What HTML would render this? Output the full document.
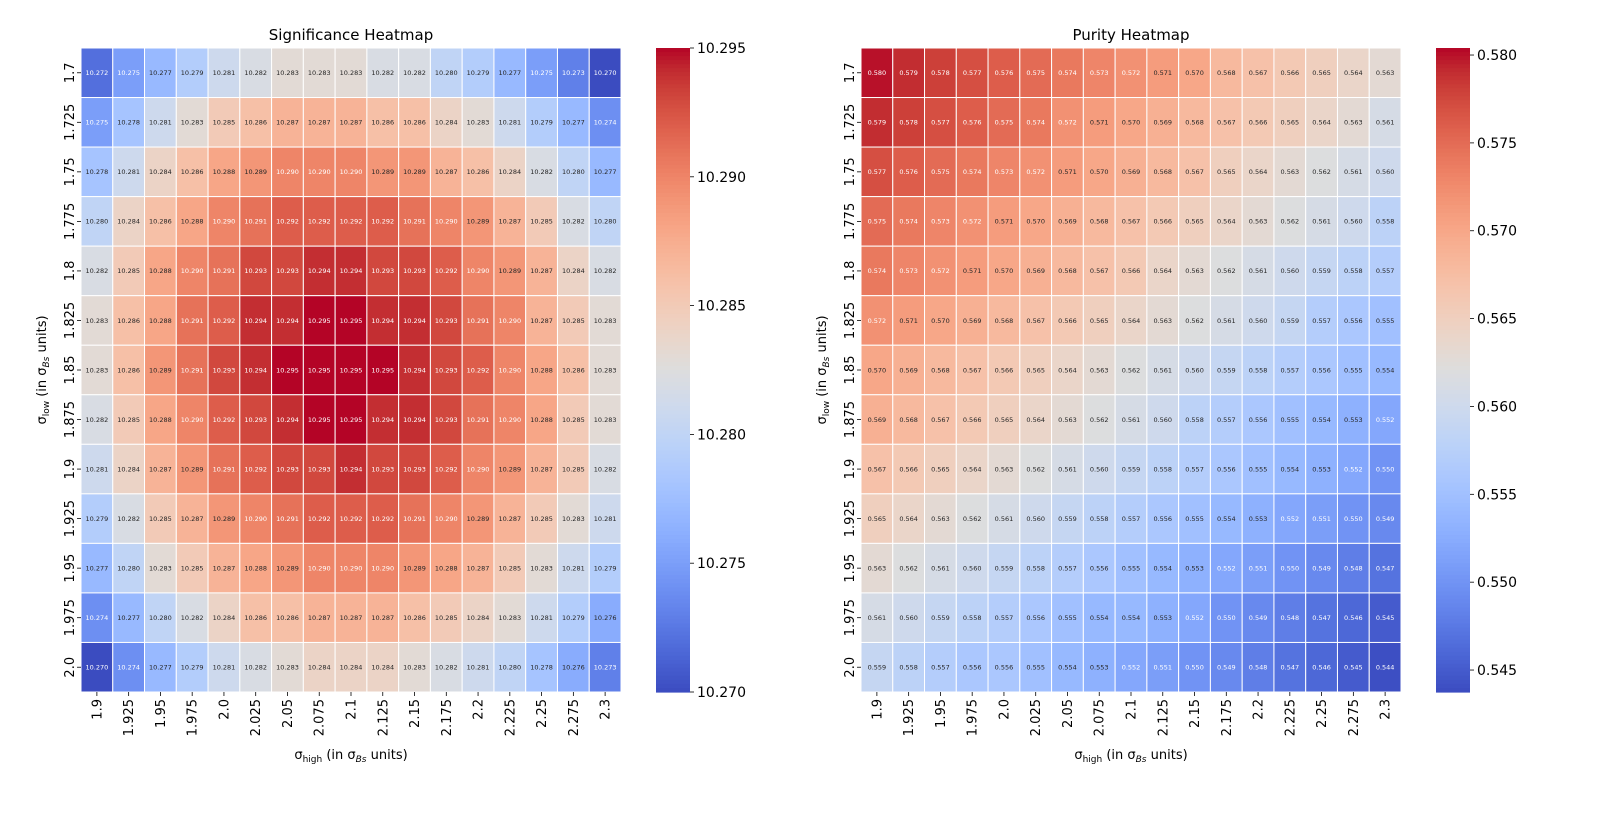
<!DOCTYPE html>
<html><head><meta charset="utf-8">
<style>
html,body{margin:0;padding:0;background:#fff;}
svg{display:block;font-family:"DejaVu Sans","Liberation Sans",sans-serif;}
</style></head>
<body>
<svg id="chart" width="1603" height="832" viewBox="0 0 1603 832" xmlns="http://www.w3.org/2000/svg"></svg>
<script>
const xCategories = ["1.9","1.925","1.95","1.975","2.0","2.025","2.05","2.075","2.1","2.125","2.15","2.175","2.2","2.225","2.25","2.275","2.3"];
const yCategories = ["1.7","1.725","1.75","1.775","1.8","1.825","1.85","1.875","1.9","1.925","1.95","1.975","2.0"];
const sigValues = [
[272,275,277,279,281,282,283,283,283,282,282,280,279,277,275,273,270],
[275,278,281,283,285,286,287,287,287,286,286,284,283,281,279,277,274],
[278,281,284,286,288,289,290,290,290,289,289,287,286,284,282,280,277],
[280,284,286,288,290,291,292,292,292,292,291,290,289,287,285,282,280],
[282,285,288,290,291,293,293,294,294,293,293,292,290,289,287,284,282],
[283,286,288,291,292,294,294,295,295,294,294,293,291,290,287,285,283],
[283,286,289,291,293,294,295,295,295,295,294,293,292,290,288,286,283],
[282,285,288,290,292,293,294,295,295,294,294,293,291,290,288,285,283],
[281,284,287,289,291,292,293,293,294,293,293,292,290,289,287,285,282],
[279,282,285,287,289,290,291,292,292,292,291,290,289,287,285,283,281],
[277,280,283,285,287,288,289,290,290,290,289,288,287,285,283,281,279],
[274,277,280,282,284,286,286,287,287,287,286,285,284,283,281,279,276],
[270,274,277,279,281,282,283,284,284,284,283,282,281,280,278,276,273]
].map(r=>r.map(v=>10+v/1000));
const purValues = [
[580,579,578,577,576,575,574,573,572,571,570,568,567,566,565,564,563],
[579,578,577,576,575,574,572,571,570,569,568,567,566,565,564,563,561],
[577,576,575,574,573,572,571,570,569,568,567,565,564,563,562,561,560],
[575,574,573,572,571,570,569,568,567,566,565,564,563,562,561,560,558],
[574,573,572,571,570,569,568,567,566,564,563,562,561,560,559,558,557],
[572,571,570,569,568,567,566,565,564,563,562,561,560,559,557,556,555],
[570,569,568,567,566,565,564,563,562,561,560,559,558,557,556,555,554],
[569,568,567,566,565,564,563,562,561,560,558,557,556,555,554,553,552],
[567,566,565,564,563,562,561,560,559,558,557,556,555,554,553,552,550],
[565,564,563,562,561,560,559,558,557,556,555,554,553,552,551,550,549],
[563,562,561,560,559,558,557,556,555,554,553,552,551,550,549,548,547],
[561,560,559,558,557,556,555,554,554,553,552,550,549,548,547,546,545],
[559,558,557,556,556,555,554,553,552,551,550,549,548,547,546,545,544]
].map(r=>r.map(v=>v/1000));
const sigTicks = ["10.270","10.275","10.280","10.285","10.290","10.295"];
const purTicks = ["0.545","0.550","0.555","0.560","0.565","0.570","0.575","0.580"];

const CW=[[59,76,192],[68,90,204],[77,104,215],[87,117,225],[98,130,234],[108,142,241],[119,154,247],[130,165,251],[141,176,254],[152,185,255],[163,194,255],[174,201,253],[184,208,249],[194,213,244],[204,217,238],[213,219,230],[221,221,221],[229,216,209],[236,211,197],[241,204,185],[245,196,173],[247,187,160],[247,177,148],[247,166,135],[244,154,123],[241,141,111],[236,127,99],[229,112,88],[222,96,77],[213,80,66],[203,62,56],[192,40,47],[180,4,38]];
function cmap(t){t=Math.max(0,Math.min(1,t));const f=t*32,i=Math.min(31,Math.floor(f)),u=f-i;
 return CW[i].map((c,k)=>Math.round(c+(CW[i+1][k]-c)*u));}
function lum(c){const l=c.map(v=>{v/=255;return v<=0.03928?v/12.92:Math.pow((v+0.055)/1.055,2.4)});return 0.2126*l[0]+0.7152*l[1]+0.0722*l[2];}
const NS="http://www.w3.org/2000/svg";
const svg=document.getElementById('chart');
function el(tag,attrs,parent,text){const e=document.createElementNS(NS,tag);for(const k in attrs)e.setAttribute(k,attrs[k]);if(text!==undefined)e.textContent=text;(parent||svg).appendChild(e);return e;}

function heatmap(opt){
 const g=el('g',{});
 
 
 const x0=opt.x0,y0=48,W=540,H=644,nx=xCategories.length,ny=yCategories.length,cw=W/nx,ch=H/ny;
 const norm=v=>(v-opt.vmin)/(opt.vmax-opt.vmin);
 opt.values.forEach((row,r)=>row.forEach((v,c)=>{
  const col=cmap(norm(v));
  const rc=el('rect',{x:x0+c*cw,y:y0+r*ch,width:cw,height:ch,fill:`rgb(${col})`,stroke:'#fff','stroke-width':1},g);
  
  
  const t=el('text',{x:x0+(c+0.5)*cw,y:y0+(r+0.5)*ch+2.3,'text-anchor':'middle','font-size':6.5,fill:lum(col)>0.408?'#262626':'#fff'},g,v.toFixed(3));
  
  
 }));
 // title
 const tt=el('text',{x:x0+W/2,y:40,'text-anchor':'middle','font-size':15,fill:'#000'},g,opt.title);
 
 
 // x ticks
 xCategories.forEach((lab,i)=>{
  const cx=x0+(i+0.5)*cw;
  el('line',{x1:cx,y1:y0+H,x2:cx,y2:y0+H+4,stroke:'#000','stroke-width':0.8},g);
  const t=el('text',{transform:`translate(${cx+4.5},${y0+H+7}) rotate(-90)`,'text-anchor':'end','font-size':13,fill:'#000'},g,lab);
  
  
 });
 yCategories.forEach((lab,i)=>{
  const cy=y0+(i+0.5)*ch;
  el('line',{x1:x0-4,y1:cy,x2:x0,y2:cy,stroke:'#000','stroke-width':0.8},g);
  const t=el('text',{transform:`translate(${x0-7},${cy}) rotate(-90)`,'text-anchor':'middle','font-size':13,fill:'#000'},g,lab);
  
  
 });
 const xl=el('text',{x:x0+W/2,y:759,'text-anchor':'middle','font-size':13,fill:'#000'},g);
 xl.innerHTML='σ<tspan font-size="9" dy="3">high</tspan><tspan dy="-3"> (in σ</tspan><tspan font-size="9" dy="3" font-style="italic">Bs</tspan><tspan dy="-3"> units)</tspan>';
 
 
 const yl=el('text',{transform:`translate(${x0-35},${y0+H/2}) rotate(-90)`,'text-anchor':'middle','font-size':13,fill:'#000'},g);
 yl.innerHTML='σ<tspan font-size="9" dy="3">low</tspan><tspan dy="-3"> (in σ</tspan><tspan font-size="9" dy="3" font-style="italic">Bs</tspan><tspan dy="-3"> units)</tspan>';
 
 
 // colorbar
 const cb=el('g',{},g);
 
 
 const cbx=x0+575,cbw=34,steps=160;
 for(let i=0;i<steps;i++){const t=1-(i+0.5)/steps;el('rect',{x:cbx,y:y0+i*H/steps,width:cbw,height:H/steps+0.6,fill:`rgb(${cmap(t)})`},cb);}
 opt.ticks.forEach(s=>{
  const v=parseFloat(s),y=y0+H*(1-norm(v));
  el('line',{x1:cbx+cbw,y1:y,x2:cbx+cbw+4,y2:y,stroke:'#000','stroke-width':0.8},cb);
  const t=el('text',{x:cbx+cbw+7,y:y+5,'font-size':14,fill:'#000'},cb,s);
  
  
 });
}
heatmap({name:'significance-heatmap',title:'Significance Heatmap',x0:81,values:sigValues,vmin:10.270,vmax:10.295,ticks:sigTicks});
heatmap({name:'purity-heatmap',title:'Purity Heatmap',x0:861,values:purValues,vmin:0.54375,vmax:0.5804,ticks:purTicks});
</script>
</body></html>
